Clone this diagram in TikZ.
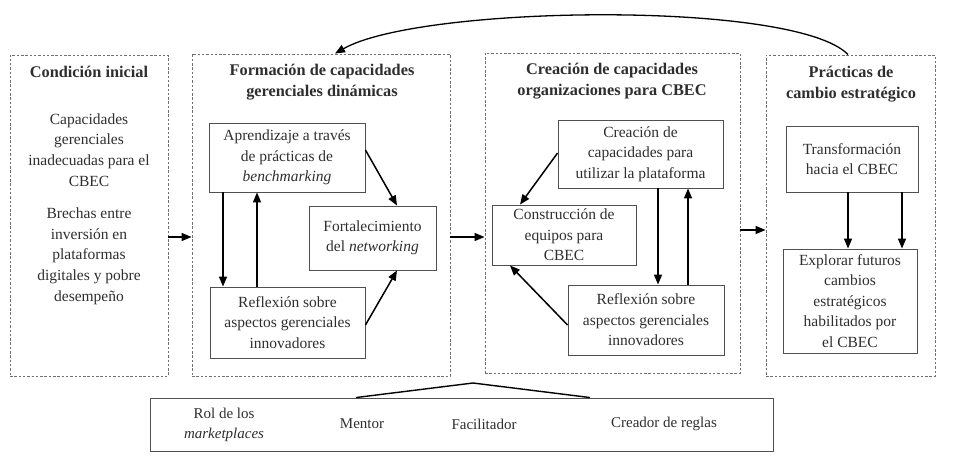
\documentclass[tikz,border=0pt]{standalone}
\usepackage{fontspec}
\setmainfont{Liberation Serif}
\usetikzlibrary{arrows.meta,calc}
\definecolor{txt}{HTML}{2E2E2E}
\definecolor{brd}{HTML}{505050}
\definecolor{dsh}{HTML}{707070}
\tikzset{
  outer/.style={draw=dsh, line width=0.9pt, dash pattern=on 2.5pt off 1.8pt, inner sep=0pt},
  inner/.style={draw=brd, line width=0.9pt, inner sep=0pt, align=center, text=txt,
     font=\fontsize{15.5}{20.5}\selectfont},
  ttl/.style={align=center, text=txt, font=\fontsize{16.3}{21}\selectfont\bfseries},
  body/.style={align=center, text=txt, font=\fontsize{15.5}{20.7}\selectfont},
  bot/.style={align=center, text=txt, font=\fontsize{15}{20}\selectfont},
  arr/.style={line width=1.5pt, -{Triangle[length=10pt,width=8pt]}},
}
\begin{document}
\begin{tikzpicture}[x=1pt,y=-1pt]
\useasboundingbox (0,0) rectangle (958,465);
% outer dashed boxes
\node[outer, minimum width=158pt, minimum height=321pt] (b1) at (89,215.5) {};
\node[outer, minimum width=258pt, minimum height=322pt] (b2) at (321,215) {};
\node[outer, minimum width=255pt, minimum height=320pt] (b3) at (612.5,213) {};
\node[outer, minimum width=169pt, minimum height=321pt] (b4) at (850.5,215.5) {};
% titles
\node[ttl] (t1) at (89,72) {Condición inicial};
\node[ttl] (t2) at (322,82) {Formación de capacidades\\gerenciales dinámicas};
\node[ttl] (t3) at (612,81) {Creación de capacidades\\organizaciones para CBEC};
\node[ttl] (t4) at (851,84) {Prácticas de\\cambio estratégico};
% box 1 texts
\node[body] (c1) at (89,150) {Capacidades\\gerenciales\\inadecuadas para el\\CBEC};
\node[body] (c2) at (89,256) {Brechas entre\\inversión en\\plataformas\\digitales y pobre\\desempeño};
% box 2
\node[inner, minimum width=156pt, minimum height=69pt] (apr) at (287,157.5) {Aprendizaje a través\\de prácticas de\\\textit{benchmarking}};
\node[inner, minimum width=127pt, minimum height=64pt] (fort) at (372.5,238) {Fortalecimiento\\del \textit{networking}};
\node[inner, minimum width=155pt, minimum height=71pt] (ref1) at (287.5,322.5) {Reflexión sobre\\aspectos gerenciales\\innovadores};
\draw[arr] (apr.south -| 223,0) -- (ref1.north -| 223,0);
\draw[arr] (ref1.north -| 257,0) -- (apr.south -| 257,0);
\draw[arr] (apr.east |- 0,150) -- (fort.north -| 397,0);
\draw[arr] (ref1.east |- 0,325) -- (fort.south -| 397,0);
% box 3
\node[inner, minimum width=165pt, minimum height=68pt] (cre) at (640.5,154) {Creación de\\capacidades para\\utilizar la plataforma};
\node[inner, minimum width=144pt, minimum height=60pt] (cons) at (564,235) {Construcción de\\equipos para\\CBEC};
\node[inner, minimum width=156pt, minimum height=70pt] (ref2) at (646,320) {Reflexión sobre\\aspectos gerenciales\\innovadores};
\draw[arr] (cre.west |- 0,153) -- (cons.north -| 520,0);
\draw[arr] (cre.south -| 658,0) -- (ref2.north -| 658,0);
\draw[arr] (ref2.north -| 688,0) -- (cre.south -| 688,0);
\draw[arr] (ref2.west |- 0,325) -- (cons.south -| 510,0);
% box 4
\node[inner, minimum width=132pt, minimum height=66pt] (tra) at (852,159) {Transformación\\hacia el CBEC};
\node[inner, minimum width=134pt, minimum height=104pt] (exp) at (850,301) {Explorar futuros\\cambios\\estratégicos\\habilitados por\\el CBEC};
\draw[arr] (tra.south -| 848,0) -- (exp.north -| 848,0);
\draw[arr] (tra.south -| 902,0) -- (exp.north -| 902,0);
% arrows between big boxes
\draw[arr] (b1.east |- 0,237) -- (b2.west |- 0,237);
\draw[arr] (b2.east |- 0,237) -- (b3.west |- 0,237);
\draw[arr] (b3.east |- 0,230) -- (b4.west |- 0,230);
% feedback curve
\draw[arr, line width=1.3pt] (b4.north -| 848,0) .. controls (795,0) and (420,5) .. (b2.north -| 335,0);
% bottom box
\node[draw=brd, line width=0.9pt, minimum width=623pt, minimum height=53pt, inner sep=0pt] (rol) at (461.5,424.5) {};
\node[bot] (r1) at (224,425) {Rol de los\\\textit{marketplaces}};
\node[bot] (r2) at (362,424) {Mentor};
\node[bot] (r3) at (484,424) {Facilitador};
\node[bot] (r4) at (664,424) {Creador de reglas};
\coordinate (apex) at (473,383);
\draw[line width=1.4pt, line join=miter] (rol.north -| 356,0) -- (apex) -- (rol.north -| 590,0);
\end{tikzpicture}
\end{document}
